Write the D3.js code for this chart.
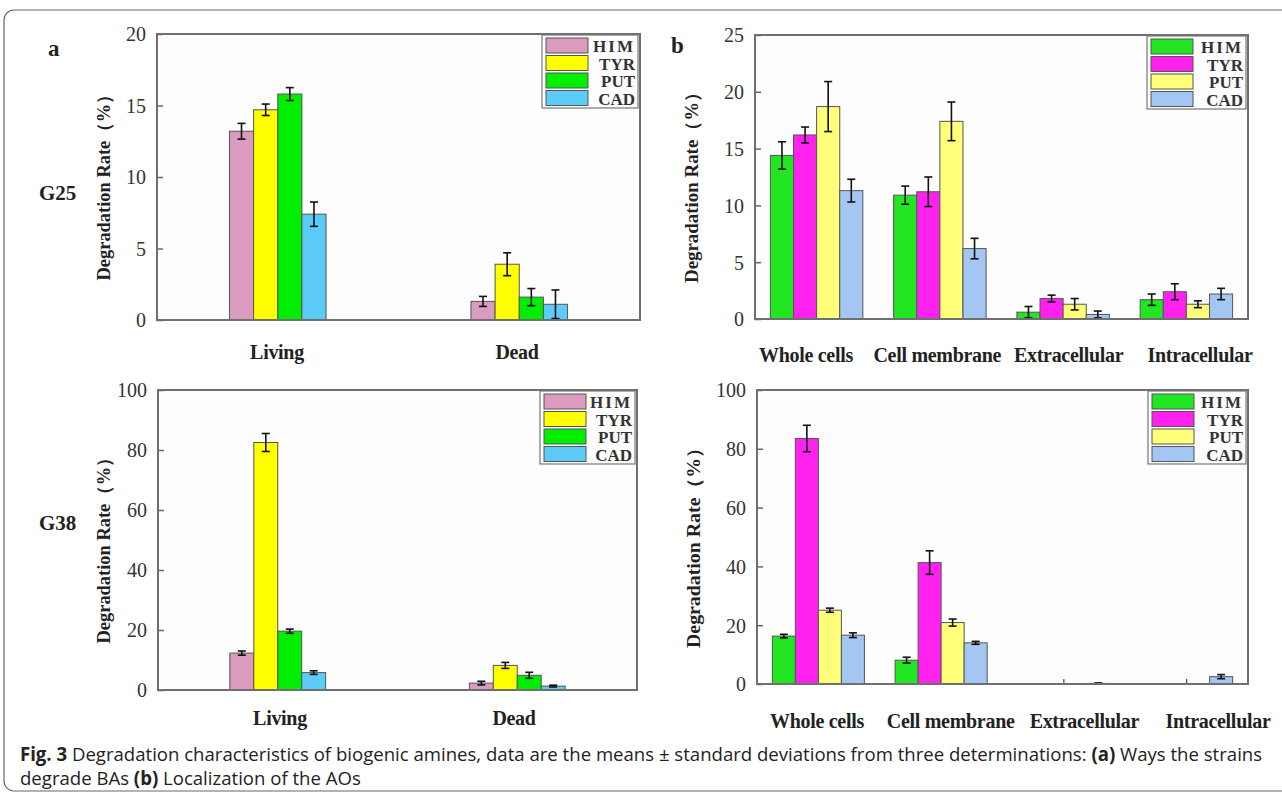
<!DOCTYPE html>
<html>
<head>
<meta charset="utf-8">
<script src="https://cdn.jsdelivr.net/npm/d3@7"></script>
<style>
  body { margin: 0; background: #fff; }
  svg { display: block; }
</style>
</head>
<body>
<div id="chart"></div>
<script>
// === Data ===
const seriesNames = ["HIM", "TYR", "PUT", "CAD"];
const waysCategories = ["Living", "Dead"];
const localCategories = ["Whole cells", "Cell membrane", "Extracellular", "Intracellular"];

// rows = series (HIM, TYR, PUT, CAD), columns = categories
const g25Means = [[13.2, 1.3], [14.7, 3.9], [15.8, 1.6], [7.4, 1.1]];
const g25Sd = [[0.55, 0.35], [0.4, 0.8], [0.45, 0.6], [0.85, 1.0]];
const g38Means = [[12.3, 2.3], [82.5, 8.2], [19.6, 4.9], [5.8, 1.3]];
const g38Sd = [[0.7, 0.6], [3.0, 1.0], [0.7, 1.0], [0.6, 0.3]];
const locTopMeans = [[14.4, 10.9, 0.6, 1.7], [16.2, 11.2, 1.8, 2.4], [18.7, 17.4, 1.3, 1.3], [11.3, 6.2, 0.4, 2.2]];
const locTopSd = [[1.2, 0.8, 0.5, 0.5], [0.7, 1.3, 0.3, 0.7], [2.2, 1.7, 0.5, 0.3], [1.0, 0.9, 0.3, 0.5]];
const locBotMeans = [[16.3, 8.1, 0, 0], [83.5, 41.3, 0, 0], [25.1, 20.9, 0, 0], [16.6, 14.0, 0.2, 2.5]];
const locBotSd = [[0.6, 1.0, 0, 0], [4.5, 4.0, 0, 0], [0.7, 1.2, 0, 0], [0.8, 0.5, 0.15, 0.7]];

const waysColors = ["#db9bbf", "#ffff00", "#00ee00", "#5ccbf8"];
const localColors = ["#22e622", "#ff22ee", "#ffff7a", "#a4c6f2"];

const W = 1282, H = 796;
const serif = "'Liberation Serif', 'DejaVu Serif', serif";

const svg = d3.select("#chart").append("svg")
  .attr("width", W)
  .attr("height", H);

// outer rounded frame
svg.append("rect")
  .attr("x", 4).attr("y", 10)
  .attr("width", W + 20).attr("height", 781)
  .attr("rx", 10)
  .attr("fill", "#fff")
  .attr("stroke", "#666")
  .attr("stroke-width", 1.2);

function drawPanel(cfg) {
  const g = svg.append("g");

  const x = d3.scaleBand()
    .domain(cfg.categories)
    .range([cfg.left, cfg.right]);

  const half = x.bandwidth() * cfg.groupFrac / 2;
  const xs = d3.scaleBand()
    .domain(seriesNames)
    .range([x.bandwidth() / 2 - half, x.bandwidth() / 2 + half]);

  const y = d3.scaleLinear()
    .domain([0, cfg.yMax])
    .range([cfg.bottom, cfg.top]);

  // plot background
  g.append("rect")
    .attr("x", cfg.left).attr("y", cfg.top)
    .attr("width", cfg.right - cfg.left)
    .attr("height", cfg.bottom - cfg.top)
    .attr("fill", "#fdfdfd");

  // x ticks (inward, at category centers)
  const xAxis = g.append("g")
    .attr("transform", `translate(0,${cfg.bottom})`)
    .call(d3.axisBottom(x).tickSizeInner(-5).tickSizeOuter(0).tickFormat(""));
  xAxis.select(".domain").remove();
  xAxis.selectAll("line").attr("stroke", "#444").attr("stroke-width", 1.2);

  // bars
  const data = [];
  seriesNames.forEach((s, i) => {
    cfg.categories.forEach((c, j) => {
      data.push({ s, c, i, v: cfg.means[i][j], e: cfg.sd[i][j] });
    });
  });

  g.append("g")
    .selectAll("rect")
    .data(data.filter(d => d.v > 0))
    .join("rect")
    .attr("x", d => x(d.c) + xs(d.s))
    .attr("y", d => y(d.v))
    .attr("width", xs.bandwidth())
    .attr("height", d => y(0) - y(d.v))
    .attr("fill", d => cfg.colors[d.i])
    .attr("stroke", "#555")
    .attr("stroke-width", 1);

  // error bars
  const eb = g.append("g")
    .attr("stroke", "#111")
    .attr("stroke-width", 1.6)
    .selectAll("g")
    .data(data.filter(d => d.e > 0))
    .join("g")
    .attr("transform", d => `translate(${x(d.c) + xs(d.s) + xs.bandwidth() / 2},0)`);
  eb.append("line")
    .attr("y1", d => y(Math.max(0, d.v - d.e))).attr("y2", d => y(d.v + d.e));
  eb.append("line")
    .attr("x1", -4).attr("x2", 4)
    .attr("y1", d => y(d.v + d.e)).attr("y2", d => y(d.v + d.e));
  eb.append("line")
    .attr("x1", -4).attr("x2", 4)
    .attr("y1", d => y(Math.max(0, d.v - d.e))).attr("y2", d => y(Math.max(0, d.v - d.e)));

  // y axis
  const yAxis = g.append("g")
    .attr("transform", `translate(${cfg.left},0)`)
    .call(d3.axisLeft(y)
      .tickValues(d3.range(0, cfg.yMax + 0.001, cfg.yStep))
      .tickSizeInner(-6)
      .tickSizeOuter(0)
      .tickPadding(11));
  yAxis.attr("font-family", null).attr("font-size", null);
  yAxis.select(".domain").remove();
  yAxis.selectAll("line").attr("stroke", "#666").attr("stroke-width", 1.5);
  yAxis.selectAll("text")
    .style("font-family", serif)
    .style("font-size", "20px")
    .attr("dy", "0.34em")
    .attr("fill", "#333");

  // frame
  g.append("rect")
    .attr("x", cfg.left).attr("y", cfg.top)
    .attr("width", cfg.right - cfg.left)
    .attr("height", cfg.bottom - cfg.top)
    .attr("fill", "none")
    .attr("stroke", "#6f6f6f")
    .attr("stroke-width", 2);

  // category labels
  const lx = d3.scalePoint()
    .domain(cfg.categories)
    .range(cfg.labelRange);
  g.append("g")
    .selectAll("text")
    .data(cfg.categories)
    .join("text")
    .attr("x", d => lx(d))
    .attr("y", cfg.labelY)
    .attr("text-anchor", "middle")
    .style("font-family", serif)
    .attr("font-weight", "bold")
    .attr("font-size", 20)
    .attr("letter-spacing", -0.3)
    .attr("fill", "#222")
    .text(d => d);

  // y title
  g.append("text")
    .attr("transform", `translate(${cfg.titleX},${(cfg.top + cfg.bottom) / 2 + 6}) rotate(-90)`)
    .attr("text-anchor", "middle")
    .style("font-family", serif)
    .attr("font-weight", "bold")
    .attr("font-size", 18)
    .attr("fill", "#222")
    .attr("textLength", cfg.titleLen)
    .attr("lengthAdjust", "spacingAndGlyphs")
    .text("Degradation Rate（%）");

  // legend
  const lg = g.append("g")
    .attr("transform", `translate(${cfg.legendX},${cfg.top + 1})`);
  lg.append("rect")
    .attr("x", 0).attr("y", 0)
    .attr("width", cfg.right - cfg.legendX - 2)
    .attr("height", 73)
    .attr("fill", "#fdfdfd")
    .attr("stroke", "#777")
    .attr("stroke-width", 1.2);
  const rows = lg.selectAll("g.row")
    .data(seriesNames)
    .join("g")
    .attr("class", "row")
    .attr("transform", (d, i) => `translate(4,${3 + i * 17.5})`);
  rows.append("rect")
    .attr("width", 42)
    .attr("height", 15)
    .attr("fill", (d, i) => cfg.colors[i])
    .attr("stroke", "#555")
    .attr("stroke-width", 1);
  rows.append("text")
    .attr("x", cfg.right - cfg.legendX - 9)
    .attr("y", 14)
    .attr("text-anchor", "end")
    .style("font-family", serif)
    .attr("font-size", 17)
    .attr("font-weight", "bold")
    .attr("letter-spacing", d => d === "HIM" ? 2 : 0)
    .attr("fill", "#333")
    .text(d => d);
}

drawPanel({
  categories: waysCategories, means: g25Means, sd: g25Sd, colors: waysColors,
  left: 157, right: 640, top: 34, bottom: 320, yMax: 20, yStep: 5,
  groupFrac: 0.4, labelRange: [277, 517], labelY: 359, titleX: 110, titleLen: 195, legendX: 542
});
drawPanel({
  categories: waysCategories, means: g38Means, sd: g38Sd, colors: waysColors,
  left: 158, right: 637, top: 390, bottom: 690, yMax: 100, yStep: 20,
  groupFrac: 0.4, labelRange: [280, 514], labelY: 725, titleX: 110, titleLen: 195, legendX: 540
});
drawPanel({
  categories: localCategories, means: locTopMeans, sd: locTopSd, colors: localColors,
  left: 755, right: 1248, top: 35, bottom: 319, yMax: 25, yStep: 5,
  groupFrac: 0.75, labelRange: [806, 1200], labelY: 362, titleX: 698, titleLen: 200, legendX: 1147
});
drawPanel({
  categories: localCategories, means: locBotMeans, sd: locBotSd, colors: localColors,
  left: 757, right: 1248, top: 390, bottom: 684, yMax: 100, yStep: 20,
  groupFrac: 0.75, labelRange: [817, 1218], labelY: 728, titleX: 700, titleLen: 210, legendX: 1148
});

// panel letters and strain labels
const bigLabels = [
  { t: "a", x: 48, y: 56, s: 23 },
  { t: "b", x: 671, y: 53, s: 23 },
  { t: "G25", x: 39, y: 200, s: 21 },
  { t: "G38", x: 39, y: 530, s: 21 }
];
svg.append("g")
  .selectAll("text")
  .data(bigLabels)
  .join("text")
  .attr("x", d => d.x)
  .attr("y", d => d.y)
  .style("font-family", serif)
  .attr("font-weight", "bold")
  .attr("font-size", d => d.s)
  .attr("fill", "#222")
  .text(d => d.t);

// caption (squeezed horizontally to fit the reference width)
const capFont = "'Open Sans', 'Noto Sans', sans-serif";
const capG = svg.append("g");
const cap1 = capG.append("text")
  .attr("x", 0).attr("y", 761)
  .style("font-family", capFont)
  .attr("font-size", 19)
  .attr("fill", "#222");
cap1.append("tspan").attr("font-weight", "bold").text("Fig. 3");
cap1.append("tspan").text("  Degradation characteristics of biogenic amines, data are the means ± standard deviations from three determinations: ");
cap1.append("tspan").attr("font-weight", "bold").text("(a)");
cap1.append("tspan").text(" Ways the strains");

const cap2 = capG.append("text")
  .attr("x", 0).attr("y", 785)
  .style("font-family", capFont)
  .attr("font-size", 19)
  .attr("fill", "#222");
cap2.append("tspan").text("degrade BAs ");
cap2.append("tspan").attr("font-weight", "bold").text("(b)");
cap2.append("tspan").text(" Localization of the AOs");

const natural1 = cap1.node().getComputedTextLength();
const ratio = Math.min(1, 1243 / natural1);
capG.attr("transform", `translate(20,0) scale(${ratio},1)`);
</script>
</body>
</html>
